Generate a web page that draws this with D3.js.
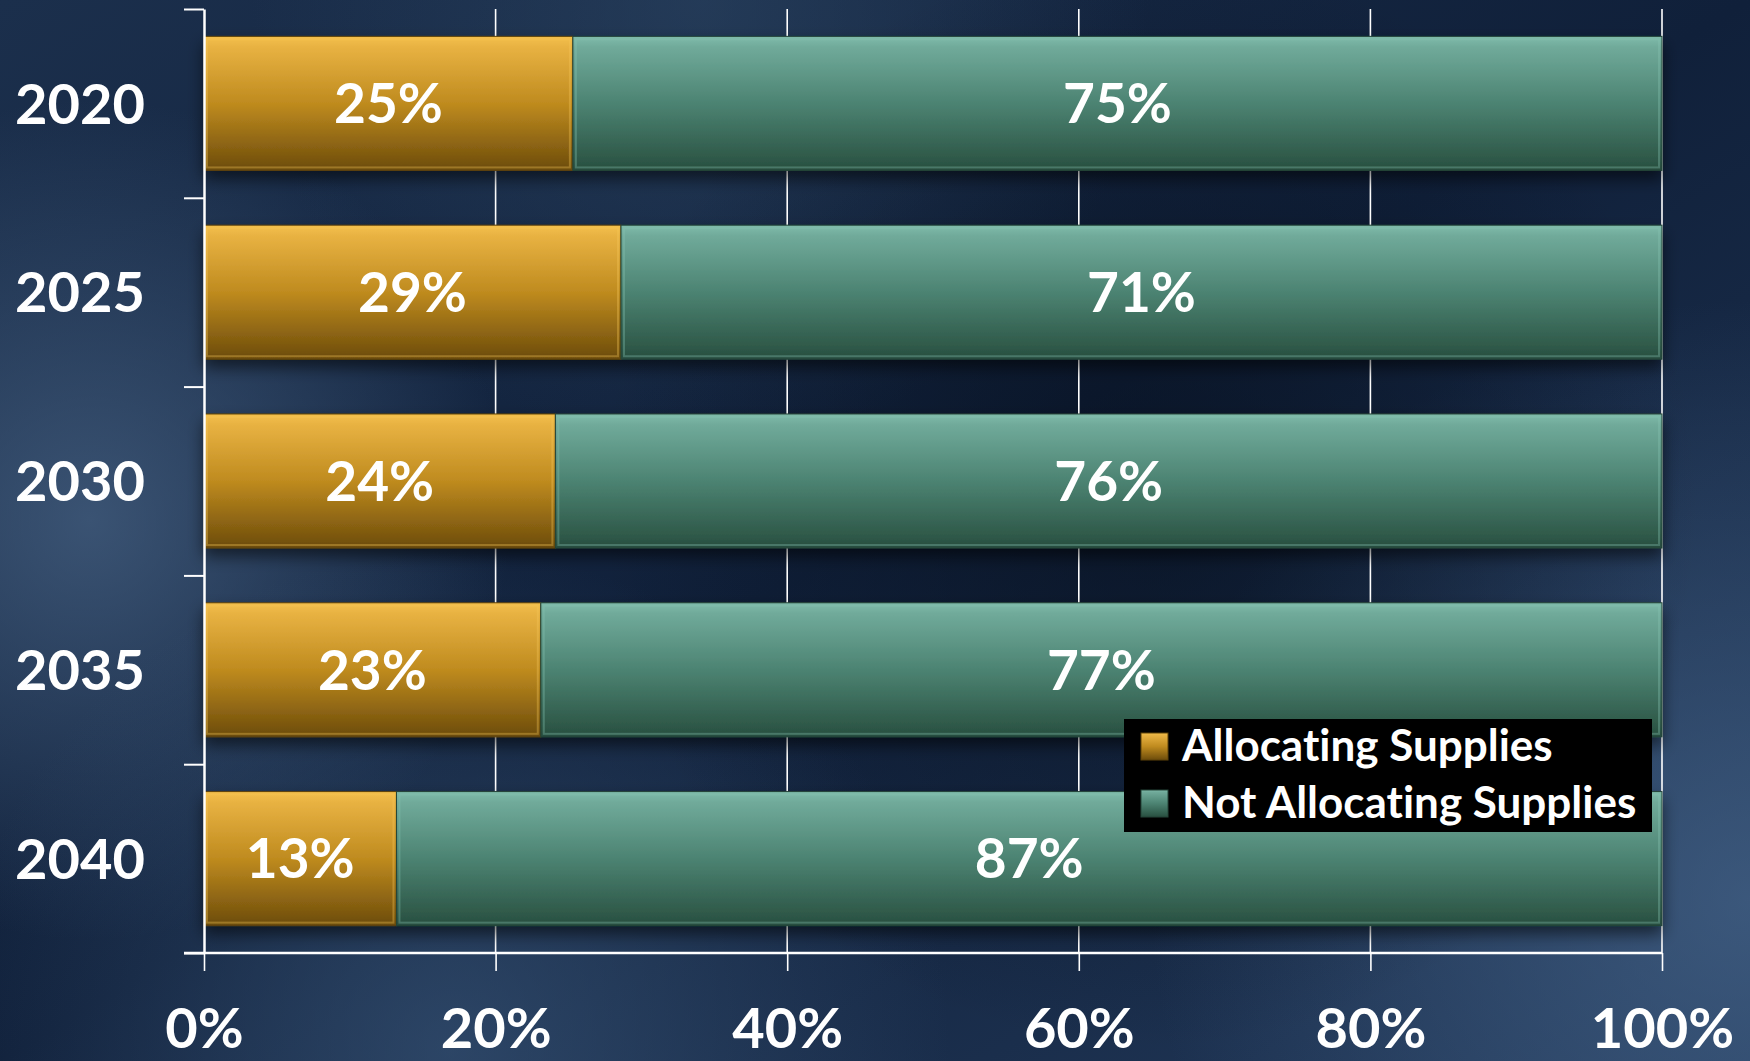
<!DOCTYPE html>
<html>
<head>
<meta charset="utf-8">
<script src="https://cdn.jsdelivr.net/npm/d3@7"></script>
<style>
  html, body { margin: 0; padding: 0; background: #14243a; overflow: hidden; }
  text { font-family: Lato, "Open Sans", sans-serif; font-weight: 700; fill: #fff; font-variant-ligatures: none; }
</style>
</head>
<body>
<div id="chart-area"></div>
<script>
const years = ["2020", "2025", "2030", "2035", "2040"];
const allocating = [0.253, 0.286, 0.241, 0.231, 0.132];
const notAllocating = [0.747, 0.714, 0.759, 0.769, 0.868];
const seriesNames = ["Allocating Supplies", "Not Allocating Supplies"];
const xTicks = [0, 0.2, 0.4, 0.6, 0.8, 1];

const svgWidth = 1750, svgHeight = 1061;
const margin = { left: 204, right: 88, top: 9, bottom: 108 };
const width = svgWidth - margin.left - margin.right;
const height = svgHeight - margin.top - margin.bottom;

const svg = d3.select("#chart-area")
              .append("svg")
              .attr("width", svgWidth)
              .attr("height", svgHeight);

const defs = svg.append("defs");

// background glow
function radial(id, cx, cy, r, stops) {
  const g = defs.append("radialGradient").attr("id", id)
    .attr("gradientUnits", "userSpaceOnUse")
    .attr("cx", cx).attr("cy", cy).attr("r", r);
  stops.forEach(s => g.append("stop").attr("offset", s[0]).attr("stop-color", s[1]).attr("stop-opacity", s[2]));
}
const bgLin = defs.append("linearGradient").attr("id", "bg").attr("x1", 0).attr("y1", 0).attr("x2", 1).attr("y2", 1);
bgLin.append("stop").attr("offset", 0).attr("stop-color", "#1b2f4c");
bgLin.append("stop").attr("offset", 0.5).attr("stop-color", "#10203a");
bgLin.append("stop").attr("offset", 1).attr("stop-color", "#22395a");
radial("glowL", 90, 520, 420, [[0, "#4a6688", 0.7], [1, "#4a6688", 0]]);
radial("glowB", 450, 1050, 500, [[0, "#3c5a7e", 0.6], [1, "#3c5a7e", 0]]);
radial("glowR", 1750, 900, 600, [[0, "#4a6a90", 0.65], [1, "#4a6a90", 0]]);
radial("glowT", 700, 0, 450, [[0, "#34506f", 0.45], [1, "#34506f", 0]]);
radial("darkC", 1150, 500, 550, [[0, "#050d1a", 0.6], [1, "#050d1a", 0]]);

svg.append("rect").attr("width", svgWidth).attr("height", svgHeight).attr("fill", "url(#bg)");
["glowL", "glowB", "glowR", "glowT", "darkC"].forEach(id =>
  svg.append("rect").attr("width", svgWidth).attr("height", svgHeight).attr("fill", `url(#${id})`));

// bar gradients
function barGrad(id, stops) {
  const g = defs.append("linearGradient").attr("id", id)
    .attr("x1", 0).attr("y1", 0).attr("x2", 0).attr("y2", 1);
  stops.forEach(s => g.append("stop").attr("offset", s[0]).attr("stop-color", s[1]));
}
barGrad("gold", [[0, "#f4c04c"], [0.08, "#e8b242"], [0.5, "#bf8b1f"], [0.92, "#7a560e"], [1, "#6a4b0b"]]);
barGrad("teal", [[0, "#80bcab"], [0.08, "#70aa9a"], [0.5, "#4c8372"], [0.92, "#2e5848"], [1, "#274c3e"]]);

const shadow = defs.append("filter").attr("id", "shadow")
  .attr("x", "-5%").attr("y", "-20%").attr("width", "110%").attr("height", "150%");
shadow.append("feDropShadow").attr("dx", 0).attr("dy", 8).attr("stdDeviation", 8)
  .attr("flood-color", "#000").attr("flood-opacity", 0.55);

const g = svg.append("g")
             .attr("transform", `translate(${margin.left},${margin.top})`);

const x = d3.scaleLinear().domain([0, 1]).range([0, width]);
const y = d3.scaleBand()
            .domain(years)
            .range([0, height])
            .paddingInner(0.29)
            .paddingOuter(0.145);
const yEdge = d3.scaleLinear().domain([0, years.length]).range([0, height]);

// gridlines
g.append("g")
 .attr("class", "grid")
 .selectAll("line")
 .data(xTicks.slice(1))
 .enter()
 .append("line")
   .attr("x1", d => x(d)).attr("x2", d => x(d))
   .attr("y1", 0).attr("y2", height)
   .attr("stroke", "#fff")
   .attr("stroke-width", 1.6);

// bars
const stack = years.map((yr, i) => ({ year: yr, a: allocating[i], n: notAllocating[i] }));
const segs = [];
stack.forEach(d => {
  segs.push({ year: d.year, x0: 0, x1: d.a, fill: "gold", v: d.a });
  segs.push({ year: d.year, x0: d.a, x1: d.a + d.n, fill: "teal", v: d.n });
});

const barG = g.append("g").attr("filter", "url(#shadow)");
const seg = barG.selectAll("g.seg")
                .data(segs)
                .enter()
                .append("g")
                .attr("class", "seg");
seg.append("rect")
   .attr("x", d => x(d.x0))
   .attr("y", d => y(d.year))
   .attr("width", d => x(d.x1) - x(d.x0))
   .attr("height", y.bandwidth())
   .attr("fill", d => `url(#${d.fill})`)
   .attr("stroke", d => d.fill === "gold" ? "#5e4208" : "#244438")
   .attr("stroke-width", 1);
// bevel highlight
seg.append("rect")
   .attr("x", d => x(d.x0) + 3)
   .attr("y", d => y(d.year) + 3)
   .attr("width", d => x(d.x1) - x(d.x0) - 6)
   .attr("height", y.bandwidth() - 6)
   .attr("fill", "none")
   .attr("stroke", d => d.fill === "gold" ? "#f6c65a" : "#86c2b1")
   .attr("stroke-opacity", 0.35)
   .attr("stroke-width", 2);

g.append("g")
 .selectAll("text")
 .data(segs)
 .enter()
 .append("text")
   .attr("x", d => (x(d.x0) + x(d.x1)) / 2)
   .attr("y", d => y(d.year) + y.bandwidth() / 2)
   .attr("dy", "0.36em")
   .attr("text-anchor", "middle")
   .attr("font-size", 55)
   .text(d => d3.format(".0%")(d.v));

// axes
const xAxisCall = d3.axisBottom(x)
                    .tickValues(xTicks)
                    .tickSize(18)
                    .tickSizeOuter(0)
                    .tickFormat(d3.format(".0%"));
const xAxis = g.append("g")
 .attr("class", "x axis")
 .attr("transform", `translate(0, ${height})`)
 .call(xAxisCall);
xAxis.select(".domain").attr("stroke", "#fff").attr("stroke-width", 2.5)
     .attr("d", `M-20,0H${width}`);
xAxis.selectAll("line").attr("stroke", "#fff").attr("stroke-width", 1.6);
xAxis.selectAll("text")
     .attr("y", 95)
     .attr("dy", 0)
     .attr("font-size", 56)
     .attr("font-family", "Lato")
     .attr("fill", "#fff");

const yAxisCall = d3.axisLeft(yEdge)
                    .tickValues(d3.range(years.length + 1))
                    .tickSize(20)
                    .tickSizeOuter(0)
                    .tickFormat("");
const yAxis = g.append("g")
 .attr("class", "y axis")
 .call(yAxisCall);
yAxis.select(".domain").attr("stroke", "#fff").attr("stroke-width", 2.5);
yAxis.selectAll("line").attr("stroke", "#fff").attr("stroke-width", 2);

g.append("g")
 .selectAll("text")
 .data(years)
 .enter()
 .append("text")
   .attr("x", -59)
   .attr("y", d => y(d) + y.bandwidth() / 2)
   .attr("dy", "0.36em")
   .attr("text-anchor", "end")
   .attr("font-size", 56)
   .text(d => d);

// legend
const legend = svg.append("g").attr("transform", "translate(1124, 719)");
legend.append("rect")
      .attr("width", 528)
      .attr("height", 113)
      .attr("fill", "#000");
const items = legend.selectAll("g.item")
                    .data(seriesNames)
                    .enter()
                    .append("g")
                    .attr("class", "item")
                    .attr("transform", (d, i) => `translate(17, ${14 + i * 57})`);
items.append("rect")
     .attr("width", 27)
     .attr("height", 27)
     .attr("fill", (d, i) => i === 0 ? "url(#gold)" : "url(#teal)")
     .attr("stroke", (d, i) => i === 0 ? "#5e4208" : "#244438");
items.append("text")
     .attr("x", 41)
     .attr("y", 28)
     .attr("font-size", 44)
     .text(d => d);
</script>
</body>
</html>
